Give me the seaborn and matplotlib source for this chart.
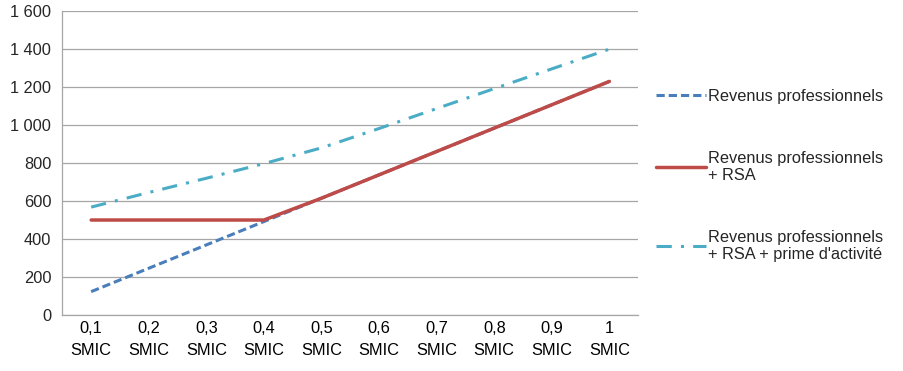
import matplotlib
matplotlib.use("Agg")
import matplotlib.pyplot as plt
import matplotlib.ticker as mticker
import seaborn as sns
import pandas as pd

# values
categories = ["0,1\nSMIC", "0,2\nSMIC", "0,3\nSMIC", "0,4\nSMIC", "0,5\nSMIC",
              "0,6\nSMIC", "0,7\nSMIC", "0,8\nSMIC", "0,9\nSMIC", "1\nSMIC"]
revenus = [123, 246, 369, 492, 615, 738, 861, 984, 1107, 1230]
revenus_rsa = [500, 500, 500, 500, 615, 738, 861, 984, 1107, 1230]
revenus_rsa_prime = [568, 645, 720, 797, 880, 982, 1087, 1192, 1296, 1400]

labels = ["Revenus professionnels",
          "Revenus professionnels\n+ RSA",
          "Revenus professionnels\n+ RSA + prime d'activité"]
colors = ["#4a7ebb", "#be4b48", "#4bacc6"]

sns.set_style("white")
plt.rcParams['font.family'] = ['Liberation Sans', 'DejaVu Sans']
fs = 11.8

df = pd.DataFrame({"pos": range(len(categories)),
                   "r": revenus, "rr": revenus_rsa, "rrp": revenus_rsa_prime})

fig, ax = plt.subplots(figsize=(9.04, 3.71), dpi=100)
fig.subplots_adjust(left=0.069, right=0.706, top=0.970, bottom=0.151)

lw = 2.2
sns.lineplot(data=df, x="pos", y="r", ax=ax, color=colors[0], lw=lw,
             label=labels[0]).lines[-1].set_dashes((2.7, 1.3))
sns.lineplot(data=df, x="pos", y="rr", ax=ax, color=colors[1], lw=lw + 0.3,
             label=labels[1])
ln = sns.lineplot(data=df, x="pos", y="rrp", ax=ax, color=colors[2], lw=lw,
                  label=labels[2]).lines[-1]
ln.set_dashes((5, 3, 1, 3))

ax.set_xlim(-0.5, len(categories) - 0.5)
ax.set_ylim(0, 1600)
ax.set_yticks(range(0, 1601, 200))
ax.yaxis.set_major_formatter(mticker.FuncFormatter(lambda v, p: f"{int(v):,}".replace(",", " ")))
ax.set_xticks(range(len(categories)))
ax.set_xticklabels(categories, linespacing=1.65)
ax.set_xticks([i - 0.5 for i in range(len(categories) + 1)], minor=True)
ax.tick_params(axis="x", which="major", length=0, pad=4, labelsize=fs, colors="#000000")
ax.tick_params(axis="x", which="minor", length=5, width=0.9, color="#a6a6a6")
ax.tick_params(axis="y", length=5, width=0.9, color="#a6a6a6", labelsize=fs, pad=3)
ax.set_xlabel("")
ax.set_ylabel("")

ax.yaxis.grid(True, color="#a6a6a6", lw=0.9)
ax.set_axisbelow(True)
for s in ["top", "right"]:
    ax.spines[s].set_visible(False)
for s in ["left", "bottom"]:
    ax.spines[s].set_color("#a6a6a6")
    ax.spines[s].set_linewidth(0.9)

ax.legend(loc="upper left", bbox_to_anchor=(0.709, 0.80), bbox_transform=fig.transFigure,
          frameon=False, fontsize=fs, handlelength=3.05, handletextpad=0.12,
          labelspacing=2.85)

fig.savefig("out.png", dpi=100)
